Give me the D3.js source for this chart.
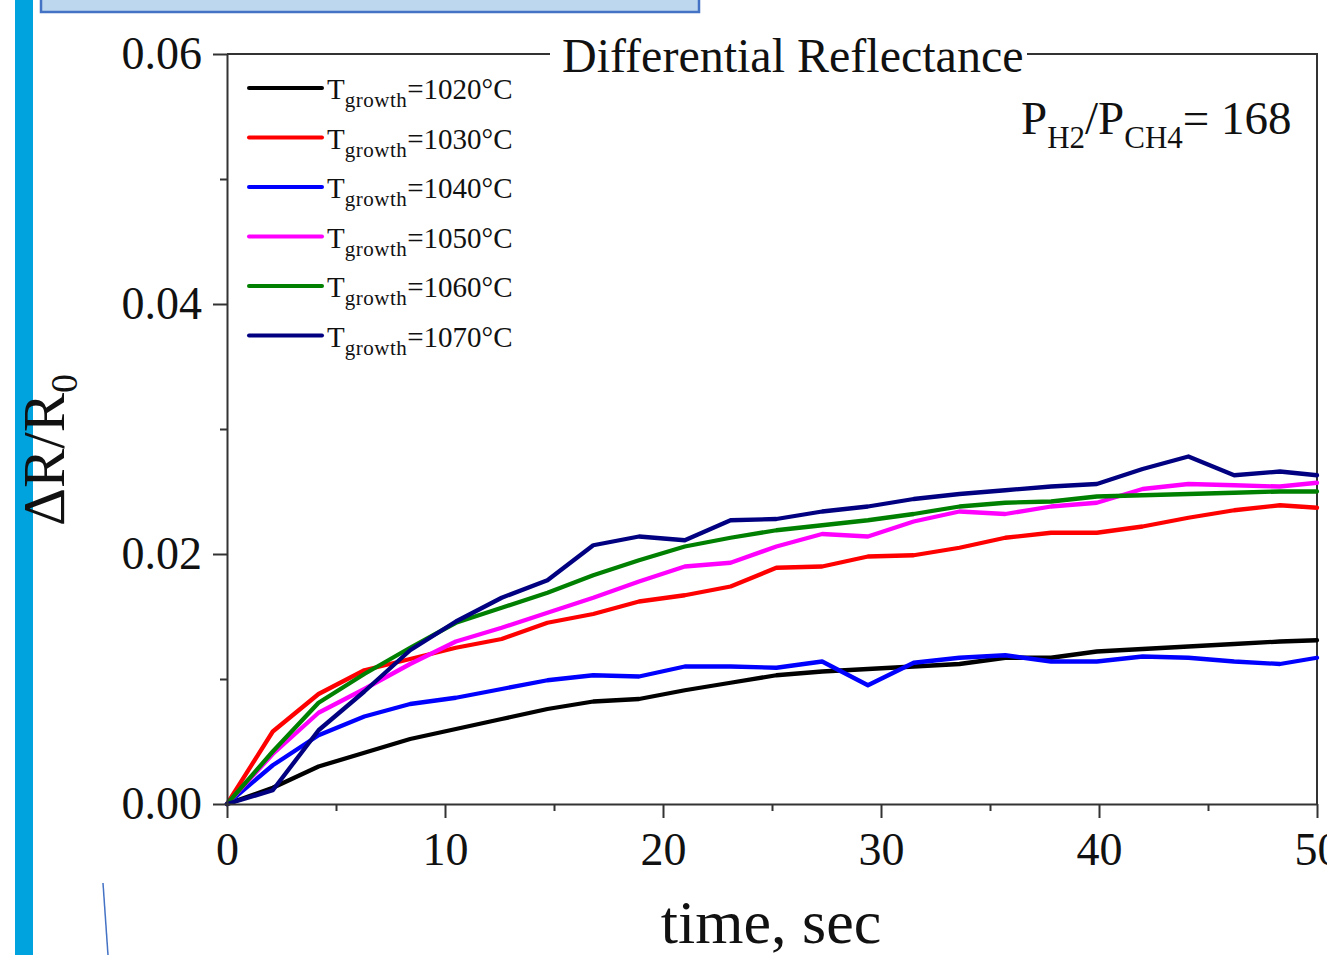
<!DOCTYPE html>
<html>
<head>
<meta charset="utf-8">
<script src="https://cdn.jsdelivr.net/npm/d3@7/dist/d3.min.js"></script>
<style>
  html, body { margin: 0; padding: 0; background: #fff; }
  svg { display: block; }
  text { font-family: "Liberation Serif", "Times New Roman", serif; fill: #111; }
</style>
</head>
<body>
<svg id="chart" width="1327" height="955"></svg>
<script>
// ---- data ----
const times = [0, 2.1, 4.2, 6.3, 8.4, 10.5, 12.6, 14.7, 16.8, 18.9, 21, 23.1, 25.2, 27.3, 29.4, 31.5, 33.6, 35.7, 37.8, 39.9, 42, 44.1, 46.2, 48.3, 50];
const seriesNames = ["1020", "1030", "1040", "1050", "1060", "1070"];
const seriesColors = ["#000000", "#ff0000", "#0000ff", "#ff00ff", "#008000", "#000080"];
const t1020 = [0, 0.0013, 0.0030, 0.0041, 0.0052, 0.0060, 0.0068, 0.0076, 0.0082, 0.0084, 0.0091, 0.0097, 0.0103, 0.0106, 0.0108, 0.0110, 0.0112, 0.0117, 0.0117, 0.0122, 0.0124, 0.0126, 0.0128, 0.0130, 0.0131];
const t1030 = [0, 0.0058, 0.0088, 0.0107, 0.0116, 0.0125, 0.0132, 0.0145, 0.0152, 0.0162, 0.0167, 0.0174, 0.0189, 0.0190, 0.0198, 0.0199, 0.0205, 0.0213, 0.0217, 0.0217, 0.0222, 0.0229, 0.0235, 0.0239, 0.0237];
const t1040 = [0, 0.0031, 0.0055, 0.0070, 0.0080, 0.0085, 0.0092, 0.0099, 0.0103, 0.0102, 0.0110, 0.0110, 0.0109, 0.0114, 0.0095, 0.0113, 0.0117, 0.0119, 0.0114, 0.0114, 0.0118, 0.0117, 0.0114, 0.0112, 0.0117];
const t1050 = [0, 0.0040, 0.0073, 0.0092, 0.0112, 0.0130, 0.0141, 0.0153, 0.0165, 0.0178, 0.0190, 0.0193, 0.0206, 0.0216, 0.0214, 0.0226, 0.0234, 0.0232, 0.0238, 0.0241, 0.0252, 0.0256, 0.0255, 0.0254, 0.0257];
const t1060 = [0, 0.0042, 0.0081, 0.0104, 0.0125, 0.0145, 0.0157, 0.0169, 0.0183, 0.0195, 0.0206, 0.0213, 0.0219, 0.0223, 0.0227, 0.0232, 0.0238, 0.0241, 0.0242, 0.0246, 0.0247, 0.0248, 0.0249, 0.0250, 0.0250];
const t1070 = [0, 0.0011, 0.0059, 0.0090, 0.0123, 0.0146, 0.0165, 0.0179, 0.0207, 0.0214, 0.0211, 0.0227, 0.0228, 0.0234, 0.0238, 0.0244, 0.0248, 0.0251, 0.0254, 0.0256, 0.0268, 0.0278, 0.0263, 0.0266, 0.0263];
const seriesValues = [t1020, t1030, t1040, t1050, t1060, t1070];
const xMajorTicks = [0, 10, 20, 30, 40, 50];
const xMinorTicks = [5, 15, 25, 35, 45];
const yMajorTicks = [0, 0.02, 0.04, 0.06];
const yMinorTicks = [0.01, 0.03, 0.05];

// ---- layout ----
const svg = d3.select("#chart");
const pL = 227, pR = 1317, pT = 54, pB = 804;
const x = d3.scaleLinear().domain([0, 50]).range([pL, pR]);
const y = d3.scaleLinear().domain([0, 0.06]).range([pB, pT]);
const axisColor = "#333";

// decorative slide elements
svg.append("rect").attr("x", 15).attr("y", 0).attr("width", 18).attr("height", 955).attr("fill", "#00a3dd");
svg.append("rect").attr("x", 41).attr("y", -6).attr("width", 658).attr("height", 18)
  .attr("fill", "#bdd7ee").attr("stroke", "#4472c4").attr("stroke-width", 2.5);
svg.append("path").attr("d", "M103,883 Q105.5,920 108,955").attr("fill", "none")
  .attr("stroke", "#4472c4").attr("stroke-width", 1.5);

// frame (top & right)
svg.append("path").attr("d", `M${pL},${pT}H${pR}V${pB}`).attr("fill", "none")
  .attr("stroke", axisColor).attr("stroke-width", 2);

// series
const line = d3.line().x((d, i) => x(times[i])).y(d => y(d));
const gLines = svg.append("g");
seriesValues.forEach((vals, k) => {
  gLines.append("path").datum(vals).attr("d", line).attr("fill", "none")
    .attr("stroke", seriesColors[k]).attr("stroke-width", 4.3)
    .attr("stroke-linejoin", "round").attr("stroke-linecap", "round");
});

// axes
function styleAxis(g) {
  g.selectAll("path.domain").attr("stroke", axisColor).attr("stroke-width", 2);
  g.selectAll(".tick line").attr("stroke", axisColor).attr("stroke-width", 2);
  g.selectAll(".tick text").style("font-family", "'Liberation Serif','Times New Roman',serif").attr("fill", "#111");
}
const gx = svg.append("g").attr("transform", `translate(0,${pB})`)
  .call(d3.axisBottom(x).tickValues(xMajorTicks).tickSize(14).tickSizeOuter(0).tickPadding(14).tickFormat(d3.format("d")));
styleAxis(gx);
gx.selectAll(".tick text").attr("font-size", 46).attr("dy", "0.71em");
const gxm = svg.append("g").attr("transform", `translate(0,${pB})`)
  .call(d3.axisBottom(x).tickValues(xMinorTicks).tickSize(7).tickSizeOuter(0).tickFormat(""));
styleAxis(gxm);
gxm.select("path.domain").remove();

const gy = svg.append("g").attr("transform", `translate(${pL},0)`)
  .call(d3.axisLeft(y).tickValues(yMajorTicks).tickSize(14).tickSizeOuter(0).tickPadding(11).tickFormat(d3.format(".2f")));
styleAxis(gy);
gy.selectAll(".tick text").attr("font-size", 46);
const gym = svg.append("g").attr("transform", `translate(${pL},0)`)
  .call(d3.axisLeft(y).tickValues(yMinorTicks).tickSize(7).tickSizeOuter(0).tickFormat(""));
styleAxis(gym);
gym.select("path.domain").remove();

// title over top frame
svg.append("rect").attr("x", 550).attr("y", 30).attr("width", 477).attr("height", 46).attr("fill", "#fff");
svg.append("text").attr("x", 562).attr("y", 72).attr("font-size", 48).text("Differential Reflectance");

// axis titles
svg.append("text").attr("x", 771).attr("y", 943).attr("text-anchor", "middle").attr("font-size", 62).text("time, sec");
const yl = svg.append("text").attr("transform", "translate(64,450) rotate(-90)").attr("text-anchor", "middle").attr("font-size", 59);
yl.append("tspan").text("ΔR/R");
yl.append("tspan").attr("font-size", 38).attr("dy", 13).text("0");

// annotation
const ann = svg.append("text").attr("x", 1021).attr("y", 134).attr("font-size", 47);
ann.append("tspan").text("P");
ann.append("tspan").attr("font-size", 31).attr("dy", 14).text("H2");
ann.append("tspan").attr("dy", -14).text("/P");
ann.append("tspan").attr("font-size", 31).attr("dy", 14).text("CH4");
ann.append("tspan").attr("dy", -14).text("= 168");

// legend
const legend = svg.append("g");
seriesNames.forEach((name, k) => {
  const yy = 88 + k * 49.5;
  legend.append("line").attr("x1", 249).attr("x2", 322).attr("y1", yy).attr("y2", yy)
    .attr("stroke", seriesColors[k]).attr("stroke-width", 4).attr("stroke-linecap", "round");
  const t = legend.append("text").attr("x", 327).attr("y", yy + 11).attr("font-size", 29);
  t.append("tspan").text("T");
  t.append("tspan").attr("font-size", 21).attr("letter-spacing", 0.5).attr("dy", 8).text("growth");
  t.append("tspan").attr("dy", -8).text(`=${name}°C`);
});
</script>
</body>
</html>
